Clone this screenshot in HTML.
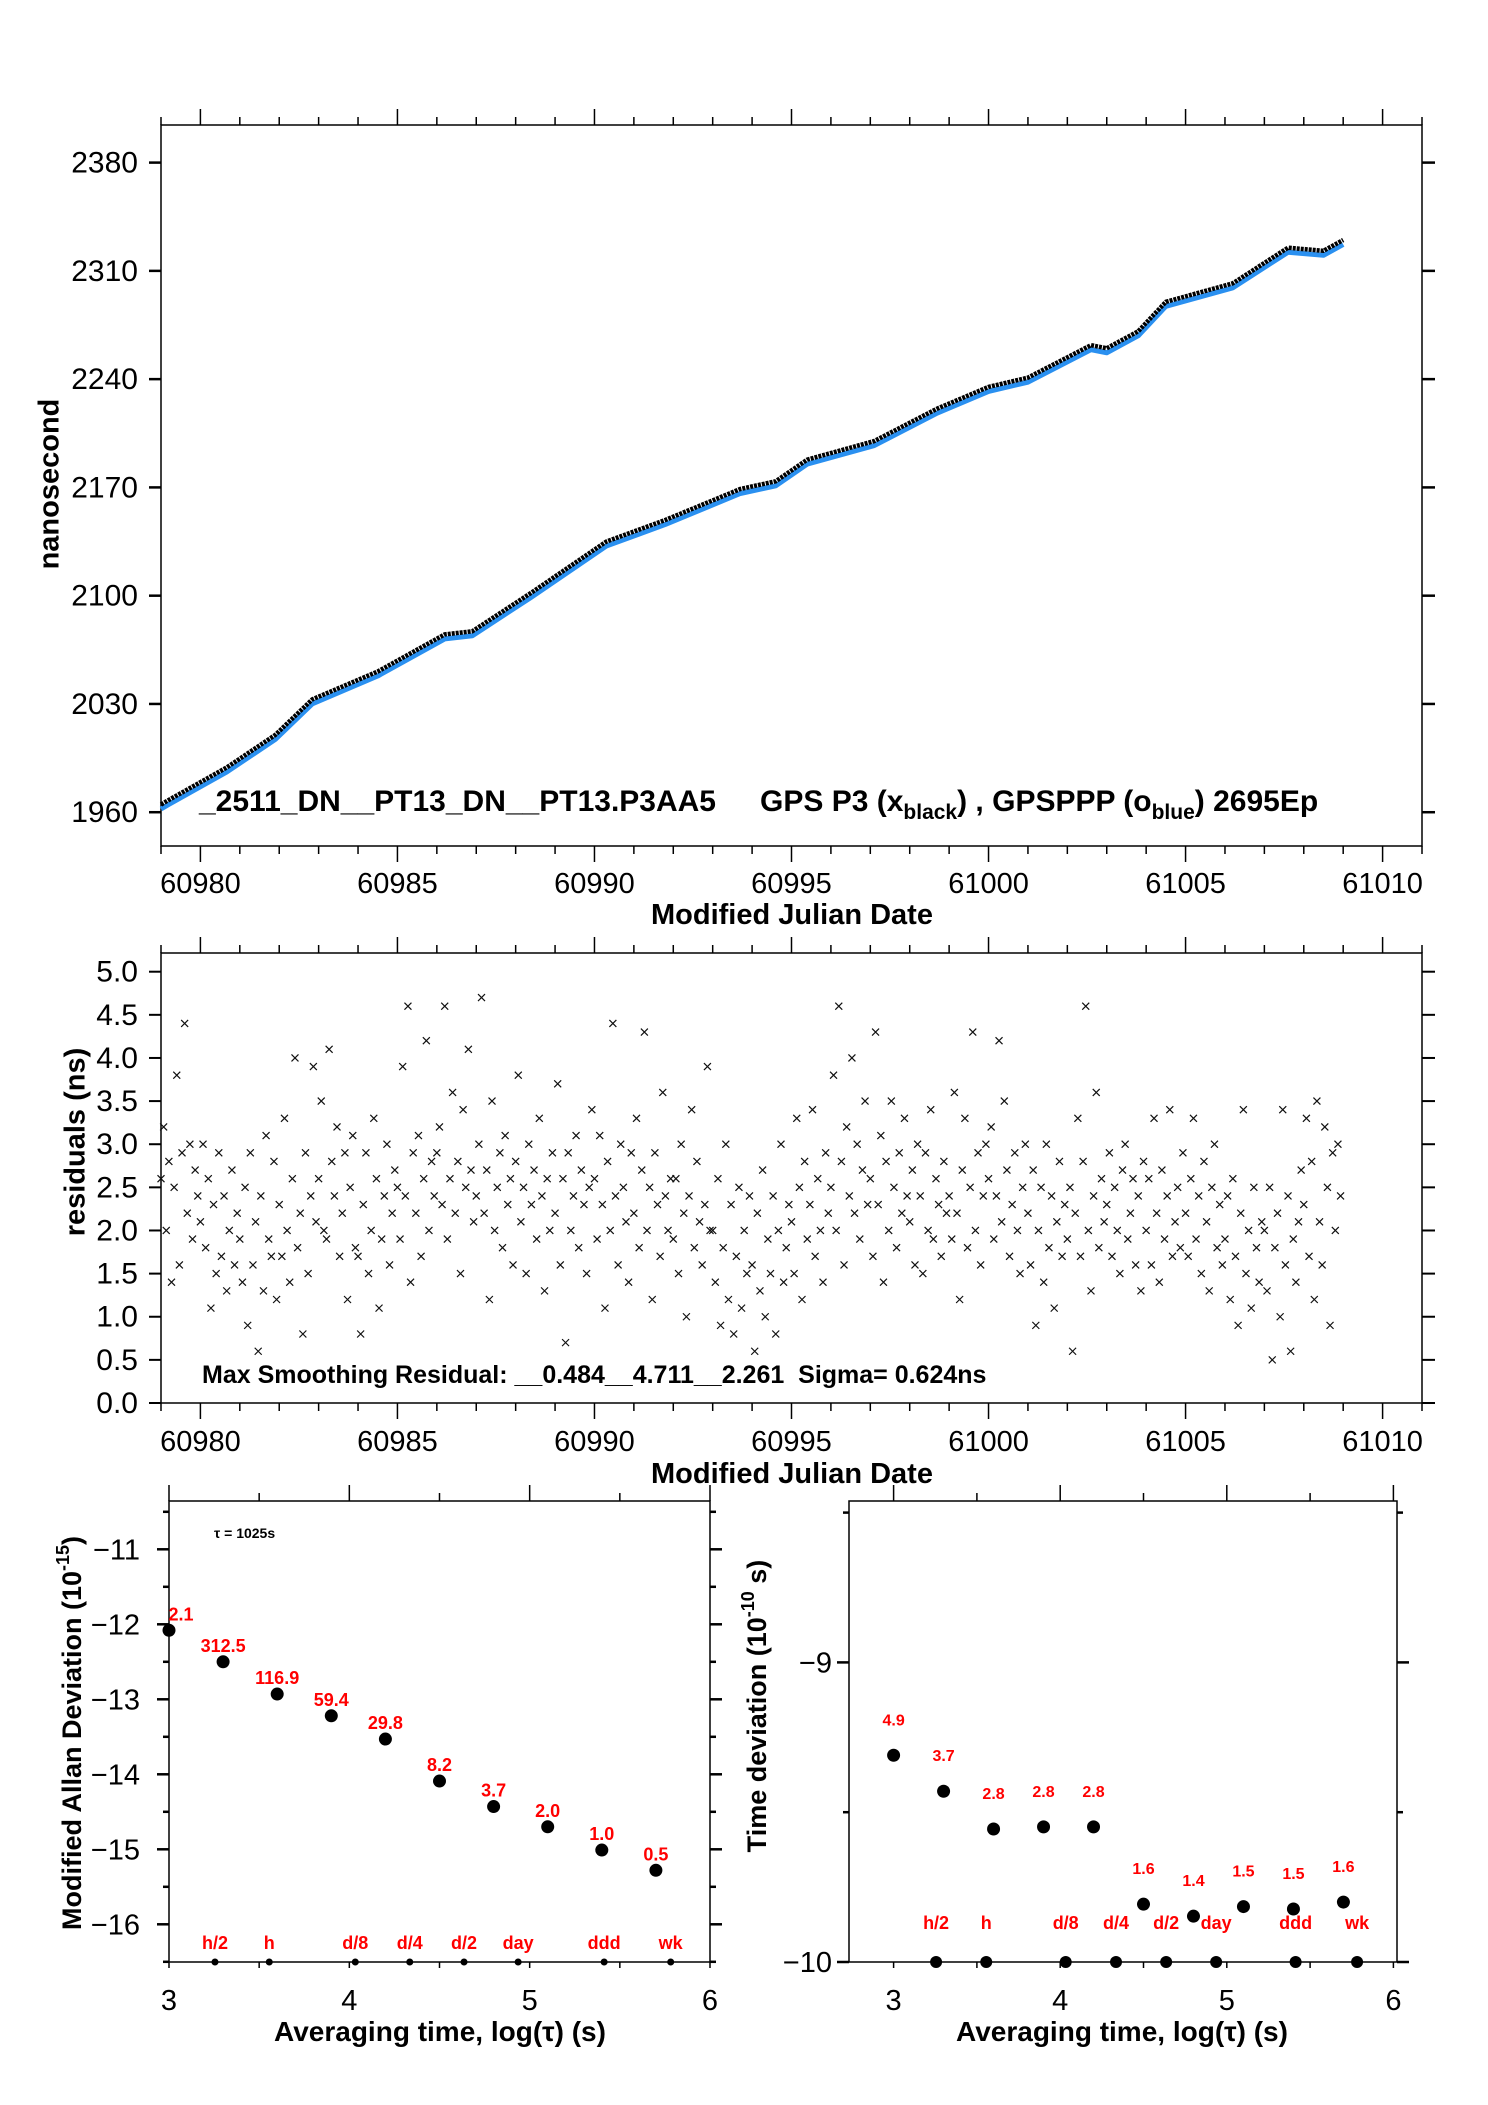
<!DOCTYPE html>
<html><head><meta charset="utf-8"><style>
html,body{margin:0;padding:0;background:#fff}
svg{display:block}
text{font-family:"Liberation Sans",sans-serif}
</style></head><body>
<svg id="fig" width="1488" height="2105" viewBox="0 0 1488 2105" xmlns="http://www.w3.org/2000/svg">
<g id="g-top"></g>
<g id="g-res"></g>
<g id="g-adev"></g>
<g id="g-tdev"></g>

<text x="51" y="484" transform="rotate(-90 51 484)" text-anchor="middle" dominant-baseline="middle" font-weight="bold" font-size="29">nanosecond</text>
<text x="792" y="924" text-anchor="middle" font-weight="bold" font-size="29">Modified Julian Date</text>
<text x="199" y="811" font-weight="bold" font-size="30">_2511_DN__PT13_DN__PT13.P3AA5<tspan dx="44">GPS P3 (x</tspan><tspan font-size="21" dy="8">black</tspan><tspan dy="-8">) ,  GPSPPP (o</tspan><tspan font-size="21" dy="8">blue</tspan><tspan dy="-8">)  2695Ep</tspan></text>

<text x="77" y="1142" transform="rotate(-90 77 1142)" text-anchor="middle" dominant-baseline="middle" font-weight="bold" font-size="29">residuals (ns)</text>
<text x="792" y="1483" text-anchor="middle" font-weight="bold" font-size="29">Modified Julian Date</text>
<text x="202" y="1383" font-weight="bold" font-size="25" xml:space="preserve">Max Smoothing Residual: __0.484__4.711__2.261  Sigma= 0.624ns</text>

<text x="74" y="1733" transform="rotate(-90 74 1733)" text-anchor="middle" dominant-baseline="middle" font-weight="bold" font-size="27">Modified Allan Deviation (10<tspan font-size="18" dy="-10">-15</tspan><tspan dy="10">)</tspan></text>
<text x="440" y="2041" text-anchor="middle" font-weight="bold" font-size="28">Averaging time, log(τ) (s)</text>
<text x="214" y="1538" font-weight="bold" font-size="14">τ = 1025s</text>

<text x="759" y="1706" transform="rotate(-90 759 1706)" text-anchor="middle" dominant-baseline="middle" font-weight="bold" font-size="27">Time deviation (10<tspan font-size="18" dy="-10">-10</tspan><tspan dy="10"> s)</tspan></text>
<text x="1122" y="2041" text-anchor="middle" font-weight="bold" font-size="28">Averaging time, log(τ) (s)</text>
</svg>
<script>
// ---------- data ----------
const phaseMjd = [60979.0,60979.2,60980.67,60981.9,60982.84,60984.5,60986.2,60986.9,60988.4,60990.3,60991.8,60993.7,60994.6,60995.4,60997.1,60998.7,61000.0,61001.0,61002.6,61003.0,61003.8,61004.5,61006.2,61007.6,61008.5,61009.0];
const phaseNs  = [1964,1967,1988,2009,2032,2050,2074,2076,2101,2134,2148,2168,2173,2187,2199,2220,2234,2240,2261,2259,2270,2289,2301,2324,2322,2329];
const resStart = 60979.0;
const resPerDay = 15;
const residuals = [
2.6,3.2,2.0,2.8,1.4,2.5,3.8,1.6,2.9,4.4,2.2,3.0,1.9,2.7,2.4,
2.1,3.0,1.8,2.6,1.1,2.3,1.5,2.9,1.7,2.4,1.3,2.0,2.7,1.6,2.2,
1.9,1.4,2.5,0.9,2.9,1.6,2.1,0.6,2.4,1.3,3.1,1.9,1.7,2.8,1.2,
2.3,1.7,3.3,2.0,1.4,2.6,4.0,1.8,2.2,0.8,2.9,1.5,2.4,3.9,2.1,
2.6,3.5,2.0,1.9,4.1,2.8,2.4,3.2,1.7,2.2,2.9,1.2,2.5,3.1,1.8,
1.7,0.8,2.3,2.9,1.5,2.0,3.3,2.6,1.1,1.9,2.4,3.0,1.6,2.2,2.7,
2.5,1.9,3.9,2.4,4.6,1.4,2.9,2.2,3.1,1.7,2.6,4.2,2.0,2.8,2.4,
2.9,3.2,2.3,4.6,1.9,2.6,3.6,2.2,2.8,1.5,3.4,2.5,4.1,2.7,2.1,
2.4,3.0,4.7,2.2,2.7,1.2,3.5,2.0,2.5,2.9,1.8,3.1,2.3,2.6,1.6,
2.8,3.8,2.1,2.5,1.5,3.0,2.3,2.7,1.9,3.3,2.4,1.3,2.6,2.0,2.9,
2.2,3.7,1.6,2.6,0.7,2.9,2.0,2.4,3.1,1.8,2.7,2.3,1.5,2.5,3.4,
2.6,1.9,3.1,2.3,1.1,2.8,2.0,4.4,2.4,1.6,3.0,2.5,2.1,1.4,2.9,
2.2,3.3,1.8,2.7,4.3,2.0,2.5,1.2,2.9,2.3,1.7,3.6,2.4,2.0,2.6,
1.9,2.6,1.5,3.0,2.2,1.0,2.4,3.4,1.8,2.8,2.1,1.6,2.3,3.9,2.0,
2.0,1.4,2.6,0.9,1.8,3.0,1.2,2.3,0.8,1.7,2.5,1.1,2.0,1.5,2.4,
1.6,0.6,2.2,1.3,2.7,1.0,1.9,1.5,2.4,0.8,2.0,3.0,1.4,1.8,2.3,
2.1,1.5,3.3,2.5,1.2,2.8,1.9,2.3,3.4,1.7,2.6,2.0,1.4,2.9,2.2,
2.5,3.8,2.0,4.6,2.8,1.6,3.2,2.4,4.0,2.2,3.0,1.9,2.7,3.5,2.3,
2.6,1.7,4.3,2.3,3.1,1.4,2.8,2.0,3.5,2.5,1.8,2.9,2.2,3.3,2.4,
2.1,2.7,1.6,3.0,2.4,1.5,2.9,2.0,3.4,1.9,2.6,2.3,1.7,2.8,2.2,
2.4,1.9,3.6,2.2,1.2,2.7,3.3,1.8,2.5,4.3,2.0,2.9,1.6,2.4,3.0,
2.6,3.2,1.9,2.4,4.2,2.1,3.5,2.7,1.7,2.3,2.9,2.0,1.5,2.5,3.0,
2.2,1.6,2.7,0.9,2.0,2.5,1.4,3.0,1.8,2.4,1.1,2.1,2.8,1.7,2.3,
1.9,2.5,0.6,2.2,3.3,1.7,2.8,4.6,2.0,1.3,2.4,3.6,1.8,2.6,2.1,
2.3,2.9,1.7,2.5,2.0,1.5,2.7,3.0,1.9,2.2,2.6,1.6,2.4,1.3,2.8,
2.0,2.6,1.6,3.3,2.2,1.4,2.7,1.9,2.4,3.4,1.7,2.1,2.5,1.8,2.9,
2.2,1.7,2.6,3.3,1.9,2.4,1.5,2.8,2.1,1.3,2.5,3.0,1.8,2.3,1.6,
1.9,2.4,1.2,2.6,1.7,0.9,2.2,3.4,1.5,2.0,1.1,2.5,1.8,1.4,2.1,
2.0,1.3,2.5,0.5,1.8,2.2,1.0,3.4,1.6,2.4,0.6,1.9,1.4,2.1,2.7,
2.3,3.3,1.7,2.8,1.2,3.5,2.1,1.6,3.2,2.5,0.9,2.9,2.0,3.0,2.4];
const logTau = [3.0,3.3,3.6,3.9,4.2,4.5,4.8,5.1,5.4,5.7];
const adevVals = [-12.08,-12.5,-12.93,-13.22,-13.53,-14.09,-14.43,-14.70,-15.01,-15.28];
const adevLabels = ["2.1","312.5","116.9","59.4","29.8","8.2","3.7","2.0","1.0","0.5"];
const tdevVals = [-9.31,-9.43,-9.556,-9.549,-9.549,-9.807,-9.847,-9.815,-9.823,-9.80];
const tdevLabels = ["4.9","3.7","2.8","2.8","2.8","1.6","1.4","1.5","1.5","1.6"];
const markerNames = ["h/2","h","d/8","d/4","d/2","day","ddd","wk"];
const markerLog = [3.255,3.556,4.033,4.335,4.636,4.936,5.413,5.782];
const topYTicks = [1960,2030,2100,2170,2240,2310,2380];
const mjdTickLabels = [60980,60985,60990,60995,61000,61005,61010];
const resYTicks = [0.0,0.5,1.0,1.5,2.0,2.5,3.0,3.5,4.0,4.5,5.0];
const adevYTicks = [-11,-12,-13,-14,-15,-16];
const tdevYTicks = [-9,-10];
const logTicks = [3,4,5,6];

// ---------- helpers ----------
const NS="http://www.w3.org/2000/svg";
function mk(parent,tag,attrs,txt){const e=document.createElementNS(NS,tag);for(const k in attrs)e.setAttribute(k,attrs[k]);if(txt!==undefined)e.textContent=txt;parent.appendChild(e);return e;}
const gTop=document.getElementById('g-top'),gRes=document.getElementById('g-res'),gA=document.getElementById('g-adev'),gT=document.getElementById('g-tdev');

// layout
const X0=161,X1=1422,M0=60979,M1=61011;
const TT=125,TB=846,RT=953,RB=1403;
const AL=169,AR=710,PT=1501,PB=1962,BL=849,BR=1397;
const xM=m=>X0+(m-M0)/(M1-M0)*(X1-X0);
const yTop=v=>162.6+(2380-v)*1.5467;
const yRes=v=>RB-v*86.26;
const xA=t=>AL+(t-3)*((AR-AL)/3);
const yA=v=>1549.3+(-11-v)*75;
const xT=t=>893.6+(t-3)*166.6;
const yT=v=>PB-(v+10)*299.6;

function box(g,x0,y0,x1,y1,name){const r=mk(g,'rect',{x:x0,y:y0,width:x1-x0,height:y1-y0,fill:'none',stroke:'#000','stroke-width':1.5});

}

// ---------- top panel ----------
box(gTop,X0,TT,X1,TB,'top-plot-frame');
for(let d=M0;d<=M1;d++){const x=xM(d);const L=(d%5===0)?16:8;
 const t1=mk(gTop,'line',{x1:x,x2:x,y1:TT,y2:TT-L,stroke:'#000','stroke-width':1.5});
 
 
 const t2=mk(gTop,'line',{x1:x,x2:x,y1:TB,y2:TB+L,stroke:'#000','stroke-width':1.5});
 
 
 const t3=mk(gRes,'line',{x1:x,x2:x,y1:RT,y2:RT-L,stroke:'#000','stroke-width':1.5});
 
 
 const t4=mk(gRes,'line',{x1:x,x2:x,y1:RB,y2:RB+L,stroke:'#000','stroke-width':1.5});
 
 
}
mjdTickLabels.forEach(m=>{
 const a=mk(gTop,'text',{x:xM(m),y:893,'text-anchor':'middle','font-size':29},String(m));
 
 
 const b=mk(gRes,'text',{x:xM(m),y:1451,'text-anchor':'middle','font-size':29},String(m));
 
 
});
topYTicks.forEach(v=>{const y=yTop(v);
 const l=mk(gTop,'line',{x1:X0-12,x2:X0,y1:y,y2:y,stroke:'#000','stroke-width':2.5});
 
 
 const r=mk(gTop,'line',{x1:X1,x2:X1+13,y1:y,y2:y,stroke:'#000','stroke-width':2.5});
 
 
 const t=mk(gTop,'text',{x:138,y:y+10,'text-anchor':'end','font-size':30},String(v));
 
 
});
let ptsB='',ptsK='';
phaseMjd.forEach((m,i)=>{ptsB+=xM(m)+','+(yTop(phaseNs[i])+3)+' ';ptsK+=xM(m)+','+(yTop(phaseNs[i])-1.5)+' ';});
const blue=mk(gTop,'polyline',{points:ptsB,fill:'none',stroke:'#2a90f0','stroke-width':5,'stroke-linejoin':'round'});


const black=mk(gTop,'polyline',{points:ptsK,fill:'none',stroke:'#000','stroke-width':4.5,'stroke-linejoin':'round','stroke-dasharray':'3 1'});



// ---------- residual panel ----------
box(gRes,X0,RT,X1,RB,'residuals-plot-frame');
resYTicks.forEach(v=>{const y=yRes(v);
 const l=mk(gRes,'line',{x1:X0-12,x2:X0,y1:y,y2:y,stroke:'#000','stroke-width':2});
 
 
 const r=mk(gRes,'line',{x1:X1,x2:X1+13,y1:y,y2:y,stroke:'#000','stroke-width':2});
 
 
 const t=mk(gRes,'text',{x:138,y:y+10,'text-anchor':'end','font-size':30},v.toFixed(1));
 
 
});
residuals.forEach((v,i)=>{const x=xM(resStart+i/resPerDay),y=yRes(v),s=3.5;
 const p=mk(gRes,'path',{d:`M${x-s},${y-s}L${x+s},${y+s}M${x-s},${y+s}L${x+s},${y-s}`,stroke:'#111','stroke-width':1.2,fill:'none'});
 
 
});

// ---------- Allan deviation panel ----------
box(gA,AL,PT,AR,PB,'adev-plot-frame');
[3,3.5,4,4.5,5,5.5,6].forEach(t=>{const x=xA(t),L=(t%1===0)?16:8;
 const a=mk(gA,'line',{x1:x,x2:x,y1:PT,y2:PT-L,stroke:'#000','stroke-width':1.5});
 
 
 const b=mk(gA,'line',{x1:x,x2:x,y1:PB,y2:PB+6,stroke:'#000','stroke-width':1.5});
 
 
});
for(let v=-10.5;v>=-16.5;v-=0.5){const y=yA(v),L=(v%1===0)?12:6;
 const a=mk(gA,'line',{x1:AL-L,x2:AL,y1:y,y2:y,stroke:'#000','stroke-width':2.5});
 
 
 const b=mk(gA,'line',{x1:AR,x2:AR+L,y1:y,y2:y,stroke:'#000','stroke-width':2.5});
 
 
}
adevYTicks.forEach(v=>{const t=mk(gA,'text',{x:140,y:yA(v)+10,'text-anchor':'end','font-size':29},'\u2212'+Math.abs(v));
 
 });
logTicks.forEach(t=>{const e=mk(gA,'text',{x:xA(t),y:2010,'text-anchor':'middle','font-size':29},String(t));
 
 });
logTau.forEach((t,i)=>{
 const c=mk(gA,'circle',{cx:xA(t),cy:yA(adevVals[i]),r:6.5,fill:'#000'});
 
 
 const lx=Math.max(xA(t),181);
 const l=mk(gA,'text',{x:lx,y:yA(adevVals[i])-10,'text-anchor':'middle','font-size':18,'font-weight':'bold',fill:'#ff0000'},adevLabels[i]);
 
 
});
markerLog.forEach((t,i)=>{
 const c=mk(gA,'circle',{cx:xA(t),cy:PB,r:3.5,fill:'#000'});
 
 
 const l=mk(gA,'text',{x:xA(t),y:PB-13,'text-anchor':'middle','font-size':18,'font-weight':'bold',fill:'#ff0000'},markerNames[i]);
 
 
});

// ---------- Time deviation panel ----------
box(gT,BL,PT,BR,PB,'tdev-plot-frame');
[3,3.5,4,4.5,5,5.5,6].forEach(t=>{const x=xT(t),L=(t%1===0)?16:8;
 const a=mk(gT,'line',{x1:x,x2:x,y1:PT,y2:PT-L,stroke:'#000','stroke-width':1.5});
 
 
 const b=mk(gT,'line',{x1:x,x2:x,y1:PB,y2:PB+6,stroke:'#000','stroke-width':1.5});
 
 
});
[-8.5,-9,-9.5,-10].forEach(v=>{const y=yT(v),L=(v%1===0)?12:6;
 const a=mk(gT,'line',{x1:BL-L,x2:BL,y1:y,y2:y,stroke:'#000','stroke-width':2.5});
 
 
 const b=mk(gT,'line',{x1:BR,x2:BR+L,y1:y,y2:y,stroke:'#000','stroke-width':2.5});
 
 
});
tdevYTicks.forEach(v=>{const t=mk(gT,'text',{x:832,y:yT(v)+10,'text-anchor':'end','font-size':29},'\u2212'+Math.abs(v));
 
 });
logTicks.forEach(t=>{const e=mk(gT,'text',{x:xT(t),y:2010,'text-anchor':'middle','font-size':29},String(t));
 
 });
logTau.forEach((t,i)=>{
 const c=mk(gT,'circle',{cx:xT(t),cy:yT(tdevVals[i]),r:6.5,fill:'#000'});
 
 
 const l=mk(gT,'text',{x:xT(t),y:yT(tdevVals[i])-30,'text-anchor':'middle','font-size':16,'font-weight':'bold',fill:'#ff0000'},tdevLabels[i]);
 
 
});
markerLog.forEach((t,i)=>{
 const c=mk(gT,'circle',{cx:xT(t),cy:PB,r:6,fill:'#000'});
 
 
 const l=mk(gT,'text',{x:xT(t),y:PB-33,'text-anchor':'middle','font-size':18,'font-weight':'bold',fill:'#ff0000'},markerNames[i]);
 
 
});
</script>
</body></html>
